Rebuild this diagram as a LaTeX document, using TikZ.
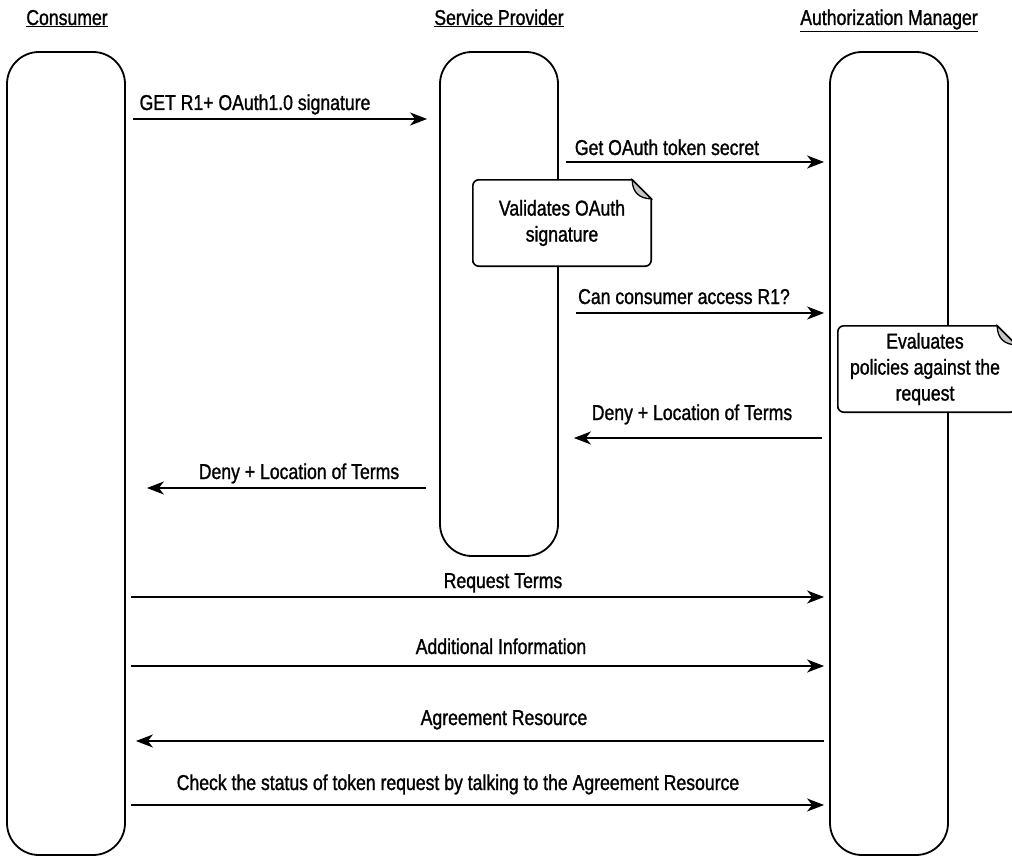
\documentclass[tikz,border=0pt]{standalone}
\usepackage{fontspec}
\setmainfont{Liberation Sans}[FakeStretch=0.82,FakeBold=1.2]
\usetikzlibrary{arrows.meta,calc}
\begin{document}
\begin{tikzpicture}[x=1pt,y=-1pt,
  every node/.style={font=\fontsize{21.5}{26}\selectfont},
  lifeline/.style={draw, line width=1.8pt, rounded corners=32pt, minimum width=118pt, inner sep=0pt},
  msg/.style={line width=1.8pt, -{Stealth[length=17pt,width=13pt,inset=5pt]}},
  lbl/.style={anchor=base, inner sep=0pt},
  notebox/.style={minimum width=178pt, minimum height=86pt, align=center, inner sep=0pt},
  noteline/.style={draw, fill=white, line width=1.6pt},
  flap/.style={draw, fill=gray!45, line width=1.3pt}
]
\clip (0,0) rectangle (1012,856);
\useasboundingbox (0,0) rectangle (1012,856);

% headers
\node[lbl] (hc) at (67,25) {\underline{Consumer}};
\node[lbl] (hs) at (499,25) {\underline{Service Provider}};
\node[lbl] (ha) at (889,25) {\underline{Authorization Manager}};

% lifelines
\node[lifeline, minimum height=803pt] (cons) at (66,453.5) {};
\node[lifeline, minimum height=504pt] (sp) at (499,304) {};
\node[lifeline, minimum height=803pt] (am) at (889,453.5) {};

% messages
\draw[msg] ($(cons.east |- 0,119)+(7,0)$) -- ($(sp.west |- 0,119)+(-12,0)$);
\node[lbl] (l1) at (255,110) {GET R1+ OAuth1.0 signature};

\draw[msg] ($(sp.east |- 0,162)+(7,0)$) -- ($(am.west |- 0,162)+(-5,0)$);
\node[lbl] (l2) at (667,155) {Get OAuth token secret};

\draw[msg] ($(sp.east |- 0,313)+(17,0)$) -- ($(am.west |- 0,313)+(-5,0)$);
\node[lbl] (l3) at (684,304) {Can consumer access R1?};

\draw[msg] ($(am.west |- 0,438)+(-7,0)$) -- ($(sp.east |- 0,438)+(15,0)$);
\node[lbl] (l4) at (692,420) {Deny + Location of Terms};

\draw[msg] ($(sp.west |- 0,488)+(-13,0)$) -- ($(cons.east |- 0,488)+(21,0)$);
\node[lbl] (l5) at (299,479) {Deny + Location of Terms};

\draw[msg] ($(cons.east |- 0,597)+(5,0)$) -- ($(am.west |- 0,597)+(-5,0)$);
\node[lbl] (l6) at (503,588) {Request Terms};

\draw[msg] ($(cons.east |- 0,666)+(5,0)$) -- ($(am.west |- 0,666)+(-5,0)$);
\node[lbl] (l7) at (501,654) {Additional Information};

\draw[msg] ($(am.west |- 0,741)+(-5,0)$) -- ($(cons.east |- 0,741)+(10,0)$);
\node[lbl] (l8) at (504,725) {Agreement Resource};

\draw[msg] ($(cons.east |- 0,805)+(5,0)$) -- ($(am.west |- 0,805)+(-5,0)$);
\node[lbl] (l9) at (458,790) {Check the status of token request by talking to the Agreement Resource};

% notes
\node[notebox] (n1) at (562,223) {};
\path[noteline] (n1.south west) [rounded corners=6pt] -- (n1.north west) [sharp corners] -- ($(n1.north east)+(-19,0)$) -- ($(n1.north east)+(0,19)$) [rounded corners=6pt] -- (n1.south east) -- (n1.south west) -- cycle;
\path[flap] ($(n1.north east)+(-19,0)$) .. controls ($(n1.north east)+(-19,13)$) and ($(n1.north east)+(-11,19)$) .. ($(n1.north east)+(0,19)$) -- cycle;
\node[align=center, inner sep=0pt] (t1) at (n1.center) {Validates OAuth\\signature};

\node[notebox] (n2) at (927,369) {};
\path[noteline] (n2.south west) [rounded corners=6pt] -- (n2.north west) [sharp corners] -- ($(n2.north east)+(-19,0)$) -- ($(n2.north east)+(0,19)$) [rounded corners=6pt] -- (n2.south east) -- (n2.south west) -- cycle;
\path[flap] ($(n2.north east)+(-19,0)$) .. controls ($(n2.north east)+(-19,13)$) and ($(n2.north east)+(-11,19)$) .. ($(n2.north east)+(0,19)$) -- cycle;
\node[align=center, inner sep=0pt] (t2) at (925,369) {Evaluates\\policies against the\\request};
\end{tikzpicture}
\end{document}
